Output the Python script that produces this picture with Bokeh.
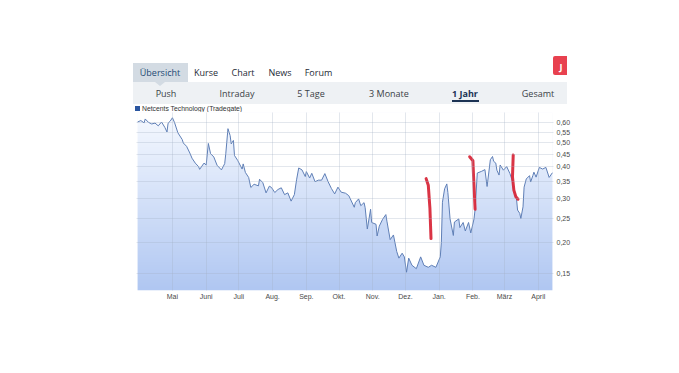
import numpy as np
import pandas as pd
from bokeh.plotting import figure
from bokeh.models import Range1d, FixedTicker, Div
from bokeh.layouts import column
from bokeh.embed import file_html
from bokeh.resources import INLINE

# ---------------- data ----------------
series_name = "Netcents Technology (Tradegate)"

dates = [
    "2023-03-30", "2023-04-02", "2023-04-05", "2023-04-06", "2023-04-09", "2023-04-12", "2023-04-15",
    "2023-04-18", "2023-04-21", "2023-04-24", "2023-04-26", "2023-04-27", "2023-04-29",
    "2023-05-01", "2023-05-03", "2023-05-06", "2023-05-10", "2023-05-11", "2023-05-14", "2023-05-17",
    "2023-05-19", "2023-05-22", "2023-05-25", "2023-05-26", "2023-05-30",
    "2023-06-01", "2023-06-03", "2023-06-05", "2023-06-08", "2023-06-11", "2023-06-15", "2023-06-18",
    "2023-06-19", "2023-06-21", "2023-06-23", "2023-06-24", "2023-06-26", "2023-06-27",
    "2023-06-30", "2023-07-04", "2023-07-05", "2023-07-07", "2023-07-10", "2023-07-12", "2023-07-15",
    "2023-07-19", "2023-07-20", "2023-07-23", "2023-07-26", "2023-07-29", "2023-07-31",
    "2023-08-03", "2023-08-06", "2023-08-09", "2023-08-12", "2023-08-15", "2023-08-18", "2023-08-21",
    "2023-08-23", "2023-08-25", "2023-08-28", "2023-08-31",
    "2023-09-01", "2023-09-04", "2023-09-06", "2023-09-09", "2023-09-12", "2023-09-15", "2023-09-18",
    "2023-09-21", "2023-09-24", "2023-09-27", "2023-09-30",
    "2023-10-03", "2023-10-07", "2023-10-10", "2023-10-15", "2023-10-16", "2023-10-19", "2023-10-21",
    "2023-10-24", "2023-10-25", "2023-10-27", "2023-10-30", "2023-10-31",
    "2023-11-04", "2023-11-05", "2023-11-07", "2023-11-10", "2023-11-13", "2023-11-14", "2023-11-17",
    "2023-11-20", "2023-11-23", "2023-11-25", "2023-11-28", "2023-11-30",
    "2023-12-02", "2023-12-04", "2023-12-07", "2023-12-11", "2023-12-15", "2023-12-18", "2023-12-22",
    "2023-12-25", "2023-12-29",
    "2024-01-02", "2024-01-03", "2024-01-04", "2024-01-06", "2024-01-08", "2024-01-09", "2024-01-11",
    "2024-01-14", "2024-01-15", "2024-01-19", "2024-01-20", "2024-01-23", "2024-01-25", "2024-01-28",
    "2024-01-30",
    "2024-02-02", "2024-02-03", "2024-02-05", "2024-02-09", "2024-02-12", "2024-02-14", "2024-02-17",
    "2024-02-19", "2024-02-20", "2024-02-22", "2024-02-23", "2024-02-25", "2024-02-26", "2024-02-29",
    "2024-03-03", "2024-03-06", "2024-03-08", "2024-03-09", "2024-03-12", "2024-03-13", "2024-03-15",
    "2024-03-16", "2024-03-18", "2024-03-19", "2024-03-21", "2024-03-24", "2024-03-25", "2024-03-27",
    "2024-03-28", "2024-03-30",
    "2024-04-02", "2024-04-05", "2024-04-08", "2024-04-11", "2024-04-14",
]

prices = [
    0.604, 0.612, 0.599, 0.621, 0.602, 0.593, 0.598, 0.583, 0.604, 0.575, 0.551, 0.597, 0.609,
    0.628, 0.600, 0.547, 0.514, 0.498, 0.483, 0.454, 0.433, 0.414, 0.401, 0.391, 0.414,
    0.407, 0.496, 0.452, 0.438, 0.406, 0.389, 0.412, 0.451, 0.568, 0.533, 0.494, 0.510, 0.444,
    0.424, 0.392, 0.411, 0.380, 0.363, 0.331, 0.341, 0.336, 0.357, 0.346, 0.315, 0.335, 0.331,
    0.316, 0.325, 0.330, 0.310, 0.315, 0.292, 0.310, 0.355, 0.396, 0.389, 0.366,
    0.383, 0.361, 0.377, 0.349, 0.354, 0.354, 0.376, 0.349, 0.328, 0.312, 0.332,
    0.317, 0.314, 0.307, 0.276, 0.288, 0.298, 0.280, 0.288, 0.275, 0.226, 0.271, 0.240,
    0.236, 0.212, 0.232, 0.247, 0.258, 0.243, 0.205, 0.214, 0.184, 0.173, 0.181, 0.175,
    0.152, 0.173, 0.162, 0.157, 0.175, 0.162, 0.159, 0.162, 0.159,
    0.175, 0.200, 0.289, 0.327, 0.342, 0.316, 0.248, 0.213, 0.241, 0.248, 0.229, 0.240, 0.222,
    0.240, 0.218,
    0.248, 0.271, 0.378, 0.384, 0.390, 0.334, 0.427, 0.440, 0.421, 0.414, 0.388, 0.371, 0.407, 0.388,
    0.401, 0.376, 0.354, 0.333, 0.299, 0.269, 0.261, 0.249, 0.277, 0.332, 0.358, 0.369, 0.348,
    0.369, 0.381, 0.364,
    0.398, 0.392, 0.398, 0.363, 0.379,
]

month_starts = ["2023-05-01", "2023-06-01", "2023-07-01", "2023-08-01", "2023-09-01", "2023-10-01",
                "2023-11-01", "2023-12-01", "2024-01-01", "2024-02-01", "2024-03-01", "2024-04-01"]
month_labels = ["Mai", "Juni", "Juli", "Aug.", "Sep.", "Okt.", "Nov.", "Dez.", "Jan.", "Feb.", "März", "April"]

y_ticks = [0.15, 0.20, 0.25, 0.30, 0.35, 0.40, 0.45, 0.50, 0.55, 0.60]
y_labels = ["0,15", "0,20", "0,25", "0,30", "0,35", "0,40", "0,45", "0,50", "0,55", "0,60"]

x_start, x_end = "2023-03-29", "2024-04-15"
y_low, y_high = 0.1285, 0.659

tabs = ["Übersicht", "Kurse", "Chart", "News", "Forum"]
periods = ["Push", "Intraday", "5 Tage", "3 Monate", "1 Jahr", "Gesamt"]
button_text = "J"

# hand-drawn red annotation strokes (date, price)
mark1_dates = ["2023-12-20 00:00", "2023-12-22 00:00", "2023-12-23 12:00", "2023-12-24 12:00"]
mark1_prices = [0.359, 0.338, 0.273, 0.207]
mark2_dates = ["2024-01-29 00:00", "2024-02-01 00:00", "2024-02-01 14:00", "2024-02-03 00:00"]
mark2_prices = [0.439, 0.423, 0.367, 0.271]
mark3_dates = ["2024-03-09 00:00", "2024-03-08 08:00", "2024-03-09 14:00", "2024-03-11 10:00", "2024-03-13 10:00"]
mark3_prices = [0.446, 0.365, 0.323, 0.304, 0.297]

# ---------------- helpers ----------------
def ms(d):
    return pd.Timestamp(d).value / 1e6

dt = [ms(d) for d in dates]

# ---------------- header (tabs) as HTML, page pixel positions ----------------
W = 671
HH = 112

def box(left, top, w, hgt, color, extra=""):
    return (f'<div style="position:absolute;left:{left}px;top:{top}px;width:{w}px;height:{hgt}px;'
            f'background:{color};{extra}"></div>')

def txt(s, cx, cy, color, size="9px", weight="normal", font="'Open Sans'", anchor="center"):
    tx = "-50%" if anchor == "center" else "0"
    return (f'<span style="position:absolute;left:{cx}px;top:{cy}px;transform:translate({tx},-50%);'
            f'font-family:{font};font-size:{size};font-weight:{weight};color:{color};'
            f'white-space:nowrap;line-height:1;">{s}</span>')

tab_x = [160, 206, 243, 280, 318.5]
tab_colors = ["#244a73", "#1e2a36", "#1e2a36", "#1e2a36", "#1e2a36"]
per_x = [166, 237, 311, 389, 465, 538]

parts = []
parts.append(box(133, 82, 434, 22, "#eef1f4"))
parts.append(box(133, 63, 55, 19, "#d3dbe3"))
parts.append('<div style="position:absolute;left:155px;top:82px;width:0;height:0;'
             'border-left:5px solid transparent;border-right:5px solid transparent;'
             'border-top:4px solid #d3dbe3;"></div>')
for s, x, c in zip(tabs, tab_x, tab_colors):
    parts.append(txt(s, x, 71.5, c))
for i, (s, x) in enumerate(zip(periods, per_x)):
    if i == 4:
        parts.append(txt(s, x, 92.5, "#1c3354", weight="bold"))
    else:
        parts.append(txt(s, x, 92.5, "#3a3f46"))
parts.append(box(452, 99.5, 27, 2, "#1c3354"))
parts.append('<div style="position:absolute;left:553px;top:56px;width:14px;height:19px;'
             'background:#e8414f;border-radius:2px 0 0 2px;"></div>')
parts.append(txt(button_text, 561, 65.5, "white", weight="bold"))
parts.append(box(135, 106, 5, 5, "#2b56a0"))
parts.append(txt(series_name, 142, 108.5, "#333333", size="6.8px",
                 font="'Liberation Sans'", anchor="left"))

html = (f'<div style="position:relative;width:{W}px;height:{HH}px;overflow:hidden;background:white;">'
        + "".join(parts) + "</div>")
header = Div(text=html, width=W, height=HH, margin=(0, 0, 0, 0))

# ---------------- main chart ----------------
p = figure(width=W, height=253, x_axis_type="datetime", y_axis_type="log", y_axis_location="right",
           x_range=Range1d(ms(x_start), ms(x_end)), y_range=Range1d(y_low, y_high),
           toolbar_location=None, output_backend="svg",
           min_border_left=136, min_border_right=118, min_border_top=0, min_border_bottom=75,
           outline_line_color=None, background_fill_color="white", border_fill_color="white")

n = 178
t = np.linspace(0.0, 1.0, n)
img = np.empty((n, 1), dtype=np.uint32)
view = img.view(dtype=np.uint8).reshape((n, 1, 4))
view[:, 0, 0] = (176 + (247 - 176) * t).astype(np.uint8)
view[:, 0, 1] = (199 + (250 - 199) * t).astype(np.uint8)
view[:, 0, 2] = (242 + (255 - 242) * t).astype(np.uint8)
view[:, 0, 3] = 255
p.image_rgba(image=[img], x=[dt[0]], y=[y_low], dw=[dt[-1] - dt[0]], dh=[y_high - y_low])

p.varea(x=dt, y1=prices, y2=[y_high] * len(prices), fill_color="white")

p.line(dt, prices, line_color="#5f7fb6", line_width=1)

for md, mp in [(mark1_dates, mark1_prices), (mark2_dates, mark2_prices), (mark3_dates, mark3_prices)]:
    p.line([ms(d) for d in md], mp, line_color="#d8293b", line_width=3,
           line_cap="round", line_join="round", line_alpha=0.95)

xt = [ms(d) for d in month_starts]
p.xaxis.ticker = FixedTicker(ticks=xt)
p.xaxis.major_label_overrides = {k: v for k, v in zip(xt, month_labels)}
p.yaxis.ticker = FixedTicker(ticks=y_ticks)
p.yaxis.major_label_overrides = {k: v for k, v in zip(y_ticks, y_labels)}

for ax in (p.xaxis, p.yaxis):
    ax.axis_line_color = None
    ax.major_tick_line_color = None
    ax.minor_tick_line_color = None
    ax.major_tick_out = 0
    ax.major_tick_in = 0
    ax.minor_tick_out = 0
    ax.major_label_text_font = "Liberation Sans"
    ax.major_label_text_font_size = "7px"
    ax.major_label_text_color = "#4a4a4a"
p.xaxis.major_label_standoff = 2
p.yaxis.major_label_standoff = 3

p.grid.grid_line_color = "#a3aec2"
p.grid.grid_line_alpha = 0.3
p.grid.level = "annotation"

layout = column(header, p, spacing=0)
open("out.html", "w").write(file_html(layout, INLINE))
